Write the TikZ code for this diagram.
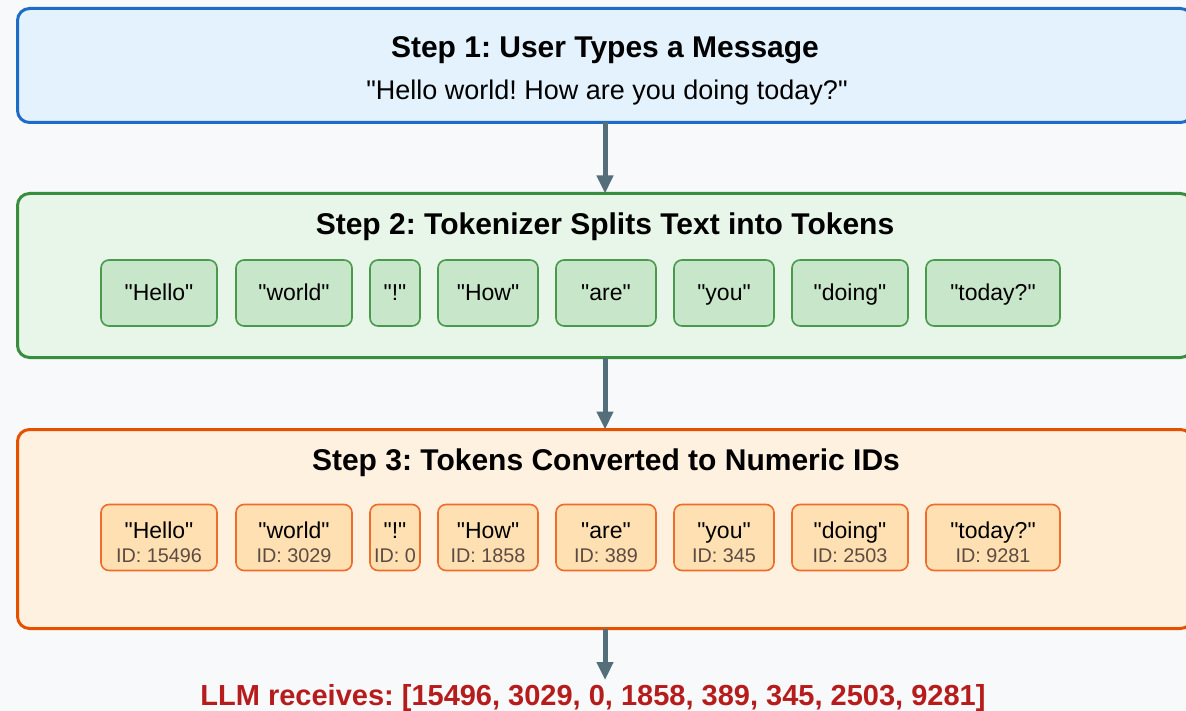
\documentclass[tikz,border=0pt]{standalone}
\usepackage{fontspec}
\setmainfont{Liberation Sans}[Ligatures=TeXOff]
\usetikzlibrary{arrows.meta}
\frenchspacing
\definecolor{bgc}{HTML}{F8F9FA}
\definecolor{bluebd}{HTML}{1E6CC8}
\definecolor{bluefl}{HTML}{E3F2FD}
\definecolor{greenbd}{HTML}{388E3C}
\definecolor{greenfl}{HTML}{E8F5E9}
\definecolor{tgreenbd}{HTML}{4A9A4E}
\definecolor{tgreenfl}{HTML}{C8E6C9}
\definecolor{orangebd}{HTML}{E65100}
\definecolor{orangefl}{HTML}{FFF1DF}
\definecolor{torangebd}{HTML}{EF6C2A}
\definecolor{torangefl}{HTML}{FFE0B2}
\definecolor{arrowc}{HTML}{546E7A}
\definecolor{llmred}{HTML}{B71C1C}
\definecolor{idc}{HTML}{5D4A42}
\tikzset{
  bigbox/.style={draw, line width=3pt, rounded corners=12pt, minimum width=1175pt, inner sep=0pt, outer sep=0pt},
  titletext/.style={anchor=base, inner sep=0pt, font=\fontsize{30}{36}\selectfont\bfseries},
  subtext/.style={anchor=base, inner sep=0pt, font=\fontsize{27}{32}\selectfont},
  gtok/.style={draw=tgreenbd, fill=tgreenfl, line width=1.6pt, rounded corners=8pt, minimum height=66pt, inner sep=0pt, text height=19pt, text depth=3pt, font=\fontsize{23}{27}\selectfont},
  otok/.style={draw=torangebd, fill=torangefl, line width=1.6pt, rounded corners=8pt, minimum height=66pt, inner sep=0pt},
  toklabel/.style={anchor=base, inner sep=0pt, font=\fontsize{23}{27}\selectfont},
  idlabel/.style={anchor=base, inner sep=0pt, text=idc, font=\fontsize{19.8}{23}\selectfont},
  flow/.style={draw=arrowc, line width=5pt, -{Triangle[width=16pt,length=18pt]}},
}
\begin{document}
\begin{tikzpicture}[x=1pt,y=-1pt]
\fill[bgc] (0,0) rectangle (1186,711);
\useasboundingbox (0,0) rectangle (1186,711);

% boxes
\node[bigbox, draw=bluebd, fill=bluefl, minimum height=114pt] (s1) at (605,65.5) {};
\node[bigbox, draw=greenbd, fill=greenfl, minimum height=164pt] (s2) at (605,275.5) {};
\node[bigbox, draw=orangebd, fill=orangefl, minimum height=199pt] (s3) at (605,529) {};

% step 1
\node[titletext] (t1) at (605,57.5) {Step 1: User Types a Message};
\node[subtext] (m1) at (607,99.5) {"Hello world! How are you doing today?"};

% step 2
\node[titletext] (t2) at (605,235) {Step 2: Tokenizer Splits Text into Tokens};
\node[gtok, minimum width=116pt] (g1) at (159,293) {"Hello"};
\node[gtok, minimum width=116pt] (g2) at (294,293) {"world"};
\node[gtok, minimum width=50pt]  (g3) at (395,293) {"!"};
\node[gtok, minimum width=100pt] (g4) at (488,293) {"How"};
\node[gtok, minimum width=100pt] (g5) at (606,293) {"are"};
\node[gtok, minimum width=100pt] (g6) at (724,293) {"you"};
\node[gtok, minimum width=116pt] (g7) at (850,293) {"doing"};
\node[gtok, minimum width=134pt] (g8) at (993,293) {"today?"};

% step 3
\node[titletext] (t3) at (606,470) {Step 3: Tokens Converted to Numeric IDs};
\foreach \n/\x/\w/\tok/\id in {1/159/116/"Hello"/15496, 2/294/116/"world"/3029, 3/395/50/"!"/0, 4/488/100/"How"/1858, 5/606/100/"are"/389, 6/724/100/"you"/345, 7/850/116/"doing"/2503, 8/993/134/"today?"/9281}{
  \node[otok, minimum width=\w pt] (o\n) at (\x,537.5) {};
  \node[toklabel] (o\n t) at (\x,538) {\tok};
  \node[idlabel] (o\n i) at (\x,562) {ID: \id};
}

% result
\node[anchor=base, inner sep=0pt, text=llmred, font=\fontsize{29}{34}\selectfont\bfseries] (llm) at (593,705) {LLM receives: [15496, 3029, 0, 1858, 389, 345, 2503, 9281]};
\coordinate (llmin) at (605,680);

% arrows
\draw[flow] (s1.south) -- (s2.north);
\draw[flow] (s2.south) -- (s3.north);
\draw[flow] (s3.south) -- (llmin);
\end{tikzpicture}
\end{document}
